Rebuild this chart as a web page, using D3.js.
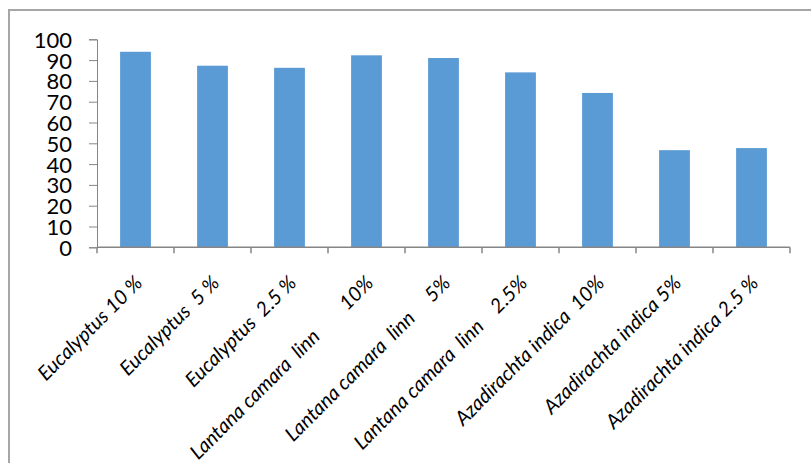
<!DOCTYPE html>
<html>
<head>
<meta charset="utf-8">
<script src="https://cdn.jsdelivr.net/npm/d3@7"></script>
<style>
  body { margin: 0; background: #fff; }
  text { font-family: Lato, "Open Sans", sans-serif; }
</style>
</head>
<body>
<div id="chart"></div>
<script>
// data
var categories = [
    "Eucalyptus 10 %",
    "Eucalyptus  5 %",
    "Eucalyptus  2.5 %",
    "Lantana camara  linn        10%",
    "Lantana camara  linn     5%",
    "Lantana camara  linn    2.5%",
    "Azadirachta indica  10%",
    "Azadirachta indica 5%",
    "Azadirachta indica 2.5 %"
];
var values = [94, 87.3, 86.3, 92.3, 91, 84.1, 74.2, 46.7, 47.7];
var yTicks = [0, 10, 20, 30, 40, 50, 60, 70, 80, 90, 100];

var width = 811, height = 463;
var svg = d3.select("#chart").append("svg")
    .attr("width", width).attr("height", height);

// outer frame (only left and top edges are inside the picture)
svg.append("rect")
    .attr("x", 9).attr("y", 10)
    .attr("width", 900).attr("height", 600)
    .attr("fill", "none")
    .attr("stroke", "#a6a6a6")
    .attr("stroke-width", 2);

var x = d3.scaleBand()
    .domain(categories)
    .range([97, 790])
    .paddingInner(0.6)
    .paddingOuter(0.3);

var y = d3.scaleLinear()
    .domain([0, 100])
    .range([247.3, 39.3]);

// bars
svg.selectAll(".bar")
    .data(values)
    .enter().append("rect")
    .attr("class", "bar")
    .attr("x", function(d, i) { return x(categories[i]); })
    .attr("y", function(d) { return y(d); })
    .attr("width", x.bandwidth())
    .attr("height", function(d) { return y(0) - y(d); })
    .attr("fill", "#5b9bd5");

// y axis
var yAxis = svg.append("g")
    .attr("transform", "translate(97,0)")
    .call(d3.axisLeft(y).tickValues(yTicks).tickSize(8).tickPadding(17));
yAxis.select(".domain").attr("stroke", "#868686");
yAxis.selectAll(".tick line").attr("stroke", "#868686");
yAxis.selectAll("text")
    .style("font-size", "22px")
    .attr("fill", "#000")
    .attr("dy", "0.36em");

// x axis: ticks at band boundaries
var step = x.step();
var boundaries = d3.range(categories.length + 1).map(function(i) { return 97 + i * step; });
var xAxisG = svg.append("g");
xAxisG.append("line")
    .attr("x1", 97).attr("x2", 97 + categories.length * step)
    .attr("y1", y(0)).attr("y2", y(0))
    .attr("stroke", "#868686").attr("stroke-width", 1.5);
xAxisG.selectAll(".xtick")
    .data(boundaries)
    .enter().append("line")
    .attr("x1", function(d) { return d; }).attr("x2", function(d) { return d; })
    .attr("y1", y(0)).attr("y2", y(0) + 6)
    .attr("stroke", "#868686").attr("stroke-width", 1.5);

// rotated labels
xAxisG.selectAll(".xlabel")
    .data(categories)
    .enter().append("text")
    .attr("class", "xlabel")
    .attr("xml:space", "preserve")
    .style("white-space", "pre")
    .attr("transform", function(d) {
        var cx = x(d) + x.bandwidth() / 2;
        return "translate(" + (cx + 8) + "," + (y(0) + 37) + ") rotate(-45)";
    })
    .attr("text-anchor", "end")
    .style("font-size", "20px")
    .style("font-style", "italic")
    .attr("fill", "#000")
    .text(function(d) { return d; });
</script>
</body>
</html>
